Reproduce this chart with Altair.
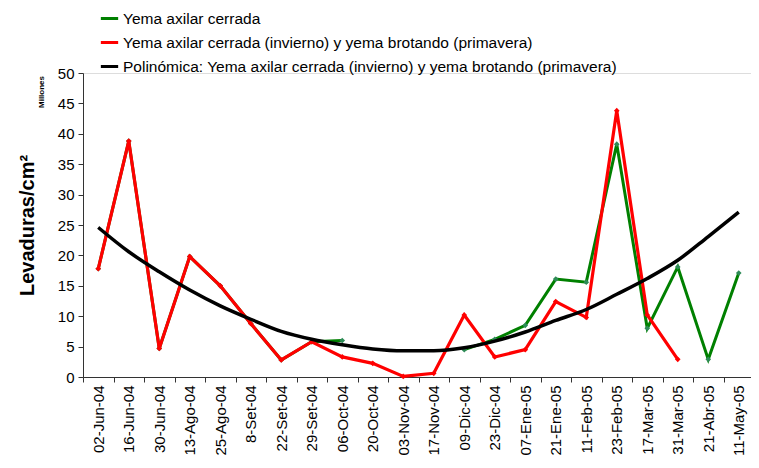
import altair as alt
import pandas as pd

dates = ["02-Jun-04", "16-Jun-04", "30-Jun-04", "13-Ago-04", "25-Ago-04", "8-Set-04",
         "22-Set-04", "29-Set-04", "06-Oct-04", "20-Oct-04", "03-Nov-04", "17-Nov-04",
         "09-Dic-04", "23-Dic-04", "07-Ene-05", "21-Ene-05", "11-Feb-05", "23-Feb-05",
         "17-Mar-05", "31-Mar-05", "21-Abr-05", "11-May-05"]

green_vals = [17.8, 38.8, 4.7, 19.8, 15.0, 8.8, 2.8, 5.8, 6.0, None, None, None,
              4.5, 6.2, 8.5, 16.1, 15.6, 38.3, 8.0, 18.1, 2.9, 17.1]
red_vals = [17.8, 38.8, 4.7, 19.8, 15.0, 8.8, 2.8, 5.8, 3.3, 2.25, 0.1, 0.6,
            10.2, 3.3, 4.5, 12.4, 9.8, 43.8, 10.2, 2.9, None, None]
trend_vals = [24.6, 20.6, 17.3, 14.3, 11.7, 9.5, 7.5, 6.2, 5.3, 4.6, 4.3, 4.3,
              4.8, 5.9, 7.4, 9.3, 11.1, 13.6, 16.2, 19.2, 23.1, 27.1]

names = ["Yema axilar cerrada",
         "Yema axilar cerrada (invierno) y yema brotando (primavera)",
         "Polinómica: Yema axilar cerrada (invierno) y yema brotando (primavera)"]
line_colors = ["#008000", "#FF0000", "#000000"]
marker_colors = ["#2E8B57", "#FF0000"]


def long_df(vals, name, mcolor):
    rows = []
    seg = 0
    prev_none = False
    for d, v in zip(dates, vals):
        if v is None:
            if not prev_none:
                seg += 1
            prev_none = True
            continue
        prev_none = False
        rows.append({"fecha": d, "valor": v, "serie": name, "seg": seg, "mcolor": mcolor})
    return pd.DataFrame(rows)


df_g = long_df(green_vals, names[0], marker_colors[0])
df_r = long_df(red_vals, names[1], marker_colors[1])
df_t = long_df(trend_vals, names[2], "#000000")

FONT = "Liberation Sans"

x_enc = alt.X("fecha:N", sort=dates, title=None,
              scale=alt.Scale(type="band", paddingInner=0, paddingOuter=0),
              axis=alt.Axis(labelAngle=270, labelFontSize=15, labelColor="black",
                            labelFont=FONT, tickBand="extent", tickSize=5,
                            tickColor="#333", domainColor="#333", labelPadding=3,
                            grid=False, labelOverlap=False))
y_enc = alt.Y("valor:Q", title="Levaduras/cm²",
              scale=alt.Scale(domain=[0, 50], nice=False),
              axis=alt.Axis(values=list(range(0, 51, 5)), labelFontSize=15, labelColor="black",
                            labelFont=FONT, tickSize=5, tickColor="#333", domainColor="#333",
                            grid=False, titleFontSize=20, titleFontWeight="bold",
                            titleFont=FONT, titleColor="black", titlePadding=20,
                            labelPadding=4))
color_enc = alt.Color("serie:N",
                      scale=alt.Scale(domain=names, range=line_colors),
                      legend=alt.Legend(orient="none", legendX=16, legendY=-65, title=None,
                                        symbolType="stroke", symbolStrokeWidth=3,
                                        symbolSize=300, labelFontSize=15.5, labelFont=FONT,
                                        labelColor="black", rowPadding=5, labelOffset=3,
                                        labelLimit=700))


def line_layer(df, sw):
    return alt.Chart(df).mark_line(strokeWidth=sw).encode(
        x=x_enc, y=y_enc, color=color_enc, detail="seg:N")


def point_layer(df):
    return alt.Chart(df).mark_point(shape="diamond", filled=True, size=32, opacity=1).encode(
        x=x_enc, y=y_enc, color=alt.Color("mcolor:N", scale=None))


trend = alt.Chart(df_t).mark_line(strokeWidth=3.5, interpolate="monotone").encode(
    x=x_enc, y=y_enc, color=color_enc)

millones = alt.Chart(alt.Data(values=[{}])).mark_text(
    angle=270, fontSize=8, fontWeight="bold", font=FONT, color="black",
    align="center", baseline="middle").encode(
    x=alt.value(-41), y=alt.value(19), text=alt.value("Millones"))

chart = alt.layer(
    line_layer(df_g, 3), point_layer(df_g),
    line_layer(df_r, 3.2), point_layer(df_r),
    trend, millones
).properties(
    width=671, height=304, autosize=alt.AutoSizeParams(type="none"),
    padding={"left": 75, "top": 65, "right": -3, "bottom": 82}
).configure_view(stroke=None).configure(background="white")

chart.save("out.html", embed_options={"renderer": "svg", "actions": False})
